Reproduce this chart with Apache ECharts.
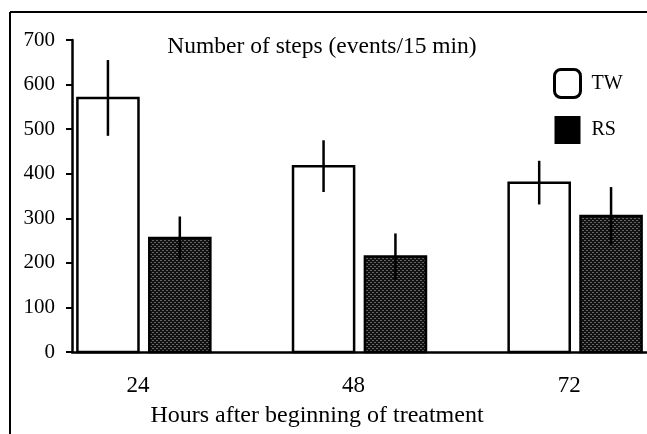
<!DOCTYPE html>
<html>
<head>
<meta charset="utf-8">
<script src="https://cdn.jsdelivr.net/npm/echarts@6/dist/echarts.min.js"></script>
<style>
html,body{margin:0;padding:0;background:#fff;}
#chart{width:647px;height:434px;}
</style>
</head>
<body>
<div id="chart"></div>
<script>
// ---- data ----
var hours = [24, 48, 72];
var tickLabels = ['24', '48', '72'];
var seriesNames = ['TW', 'RS'];
var twMean = [570, 417, 380];
var twErr = [85, 58, 49];
var rsMean = [256, 214, 305];
var rsErr = [48, 52, 65];
var titleText = 'Number of steps (events/15 min)';
var xTitleText = 'Hours after beginning of treatment';

var FONT = '"Liberation Serif", "Times New Roman", serif';

// dotted dark pattern for RS bars
function makePattern() {
  var c = document.createElement('canvas');
  c.width = 4; c.height = 4;
  var g = c.getContext('2d');
  g.fillStyle = '#111'; g.fillRect(0, 0, 4, 4);
  g.fillStyle = '#666';
  g.fillRect(0, 0, 2, 1);
  g.fillRect(2, 2, 2, 1);
  return c;
}
var rsPattern = { image: makePattern(), repeat: 'repeat' };

var BAR_OFFSET = 4;   // in x units
var BAR_WIDTH = 6.8;  // in x units

function barSeries(name, means, errs, offset, fill) {
  var data = hours.map(function (h, i) { return [h, means[i], errs[i]]; });
  return {
    type: 'custom',
    name: name,
    data: data,
    encode: { x: 0, y: 1 },
    itemStyle: { color: name === 'TW' ? '#fff' : '#000' },
    renderItem: function (params, api) {
      var x = api.value(0) + offset;
      var v = api.value(1);
      var e = api.value(2);
      var p0 = api.coord([x - BAR_WIDTH / 2, 0]);
      var p1 = api.coord([x + BAR_WIDTH / 2, v]);
      var top = api.coord([x, v + e]);
      var bot = api.coord([x, v - e]);
      return {
        type: 'group',
        children: [
          {
            type: 'rect',
            shape: { x: p0[0], y: p1[1], width: p1[0] - p0[0], height: p0[1] - p1[1] },
            style: { fill: fill, stroke: '#000', lineWidth: 2.5 }
          },
          {
            type: 'line',
            shape: { x1: top[0], y1: top[1], x2: bot[0], y2: bot[1] },
            style: { stroke: '#000', lineWidth: 2.5 }
          }
        ]
      };
    }
  };
}

var chart = echarts.init(document.getElementById('chart'));
chart.setOption({
  animation: false,
  backgroundColor: '#fff',
  grid: { left: 72, right: 0, top: 40, bottom: 82 },
  legend: {
    orient: 'vertical',
    left: 553, top: 68, padding: 0,
    itemWidth: 26, itemHeight: 28, itemGap: 17,
    textStyle: { fontFamily: FONT, fontSize: 20, color: '#000', padding: [0, 0, 0, 6] },
    data: [
      { name: seriesNames[0], icon: 'roundRect', itemStyle: { color: '#fff', borderColor: '#000', borderWidth: 3 } },
      { name: seriesNames[1], icon: 'rect', itemStyle: { color: '#000', borderColor: '#000', borderWidth: 0 } }
    ]
  },
  xAxis: {
    type: 'value', min: 16, max: 80,
    splitLine: { show: false },
    axisLine: { show: true, lineStyle: { color: '#000', width: 2.5 } },
    axisTick: { show: false },
    axisLabel: {
      customValues: hours,
      formatter: function (v) { var i = hours.indexOf(v); return i >= 0 ? tickLabels[i] : ''; },
      margin: 22, padding: [0, 12, 0, 0], fontFamily: FONT, fontSize: 23, color: '#000'
    }
  },
  yAxis: {
    type: 'value', min: 0, max: 700, interval: 100,
    splitLine: { show: false },
    axisLine: { show: true, lineStyle: { color: '#000', width: 2.5 } },
    axisTick: { show: true, length: 6, lineStyle: { color: '#000', width: 2 } },
    axisLabel: { margin: 17, fontFamily: FONT, fontSize: 21, color: '#000' }
  },
  graphic: [
    { type: 'line', shape: { x1: 10, y1: 12, x2: 10, y2: 434 }, style: { stroke: '#000', lineWidth: 2 } },
    { type: 'line', shape: { x1: 10, y1: 12, x2: 647, y2: 12 }, style: { stroke: '#000', lineWidth: 2 } },
    { type: 'text', x: 322, y: 47, style: { text: titleText, fontFamily: FONT, fontSize: 23.5, fill: '#000', textAlign: 'center', textVerticalAlign: 'middle' } },
    { type: 'text', x: 317, y: 416, style: { text: xTitleText, fontFamily: FONT, fontSize: 24, fill: '#000', textAlign: 'center', textVerticalAlign: 'middle' } }
  ],
  series: [
    barSeries(seriesNames[0], twMean, twErr, -BAR_OFFSET, '#fff'),
    barSeries(seriesNames[1], rsMean, rsErr, BAR_OFFSET, rsPattern)
  ]
});
</script>
</body>
</html>
